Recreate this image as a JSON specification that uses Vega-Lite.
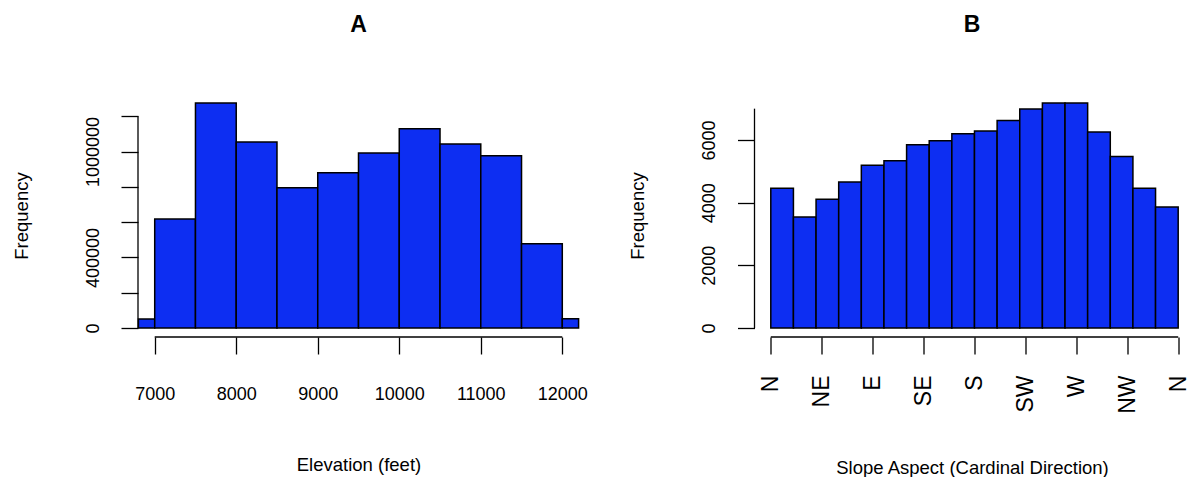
{
  "$schema": "https://vega.github.io/schema/vega-lite/v6.json",
  "background": "white",
  "padding": {"left": 12, "top": 14, "right": 0, "bottom": 0},
  "spacing": 39.5,
  "config": {
    "view": {"stroke": null},
    "font": "Liberation Sans",
    "axis": {
      "domain": false, "grid": false, "tickColor": "black", "tickWidth": 1.3, "tickSize": 17,
      "labelColor": "black", "labelFont": "Liberation Sans", "labelFontSize": 18,
      "titleColor": "black", "titleFont": "Liberation Sans", "titleFontSize": 18.5, "titleFontWeight": "normal"
    },
    "title": {"fontSize": 23, "fontWeight": "bold", "font": "Liberation Sans", "color": "black", "offset": 57, "anchor": "middle"}
  },
  "datasets": {
    "elev": [
      {"start": 6800, "end": 7000, "count": 51000},
      {"start": 7000, "end": 7500, "count": 618000},
      {"start": 7500, "end": 8000, "count": 1275000},
      {"start": 8000, "end": 8500, "count": 1054000},
      {"start": 8500, "end": 9000, "count": 795000},
      {"start": 9000, "end": 9500, "count": 880000},
      {"start": 9500, "end": 10000, "count": 992000},
      {"start": 10000, "end": 10500, "count": 1129000},
      {"start": 10500, "end": 11000, "count": 1043000},
      {"start": 11000, "end": 11500, "count": 976000},
      {"start": 11500, "end": 12000, "count": 478000},
      {"start": 12000, "end": 12200, "count": 53000}
    ],
    "aspect": [
      {"start": 0, "end": 20, "count": 4460},
      {"start": 20, "end": 40, "count": 3542},
      {"start": 40, "end": 60, "count": 4108},
      {"start": 60, "end": 80, "count": 4662},
      {"start": 80, "end": 100, "count": 5197},
      {"start": 100, "end": 120, "count": 5334},
      {"start": 120, "end": 140, "count": 5846},
      {"start": 140, "end": 160, "count": 5974},
      {"start": 160, "end": 180, "count": 6198},
      {"start": 180, "end": 200, "count": 6285},
      {"start": 200, "end": 220, "count": 6624},
      {"start": 220, "end": 240, "count": 6989},
      {"start": 240, "end": 260, "count": 7181},
      {"start": 260, "end": 280, "count": 7181},
      {"start": 280, "end": 300, "count": 6253},
      {"start": 300, "end": 320, "count": 5472},
      {"start": 320, "end": 340, "count": 4460},
      {"start": 340, "end": 360, "count": 3862}
    ],
    "one": [{}]
  },
  "hconcat": [
    {
      "title": "A",
      "width": 441,
      "height": 243,
      "layer": [
        {
          "data": {"name": "elev"},
          "mark": {"type": "bar", "fill": "#0d2ef2", "stroke": "black", "strokeWidth": 1.5},
          "encoding": {
            "x": {"field": "start", "type": "quantitative",
              "scale": {"domain": [6795, 12205], "nice": false, "zero": false},
              "axis": {"title": "Elevation (feet)", "values": [7000, 8000, 9000, 10000, 11000, 12000], "format": "d", "labelPadding": 31, "titlePadding": 52, "labelBaseline": "top"}},
            "x2": {"field": "end"},
            "y": {"field": "count", "type": "quantitative",
              "scale": {"domain": [-51000, 1326000], "nice": false, "zero": false},
              "axis": {"title": "Frequency", "values": [0, 200000, 400000, 600000, 800000, 1000000, 1200000], "format": "d",
                "labelExpr": "(datum.value == 0 || datum.value == 400000 || datum.value == 1000000) ? datum.label : ''",
                "labelAngle": -90, "labelAlign": "center", "labelBaseline": "bottom", "labelPadding": 19, "titlePadding": 52.3, "labelOverlap": false}},
            "y2": {"datum": 0}
          }
        },
        {
          "data": {"name": "one"},
          "mark": {"type": "rule", "color": "black", "strokeWidth": 1.3},
          "encoding": {"x": {"datum": 7000}, "x2": {"datum": 12000}, "y": {"datum": -51000}}
        },
        {
          "data": {"name": "one"},
          "mark": {"type": "rule", "color": "black", "strokeWidth": 1.3},
          "encoding": {"x": {"datum": 6795}, "y": {"datum": 0}, "y2": {"datum": 1200000}}
        }
      ]
    },
    {
      "title": "B",
      "width": 435,
      "height": 243,
      "layer": [
        {
          "data": {"name": "aspect"},
          "mark": {"type": "bar", "fill": "#0d2ef2", "stroke": "black", "strokeWidth": 1.5},
          "encoding": {
            "x": {"field": "start", "type": "quantitative",
              "scale": {"domain": [-14.4, 370], "nice": false, "zero": false},
              "axis": {"title": "Slope Aspect (Cardinal Direction)", "values": [0, 45, 90, 135, 180, 225, 270, 315, 360],
                "labelExpr": "['N','NE','E','SE','S','SW','W','NW','N'][round(datum.value / 45)]",
                "labelAngle": -90, "labelAlign": "right", "labelBaseline": "middle", "labelFontSize": 23, "labelPadding": 21, "titlePadding": 45, "labelOverlap": false}},
            "x2": {"field": "end"},
            "y": {"field": "count", "type": "quantitative",
              "scale": {"domain": [-287, 7468], "nice": false, "zero": false},
              "axis": {"title": "Frequency", "values": [0, 1000, 2000, 3000, 4000, 5000, 6000, 7000], "format": "d",
                "labelExpr": "(datum.value % 2000 == 0) ? datum.label : ''",
                "labelAngle": -90, "labelAlign": "center", "labelBaseline": "bottom", "labelPadding": 19, "titlePadding": 53.3, "labelOverlap": false}},
            "y2": {"datum": 0}
          }
        },
        {
          "data": {"name": "one"},
          "mark": {"type": "rule", "color": "black", "strokeWidth": 1.3},
          "encoding": {"x": {"datum": 0}, "x2": {"datum": 360}, "y": {"datum": -287}}
        },
        {
          "data": {"name": "one"},
          "mark": {"type": "rule", "color": "black", "strokeWidth": 1.3},
          "encoding": {"x": {"datum": -14.4}, "y": {"datum": 0}, "y2": {"datum": 7000}}
        }
      ]
    }
  ]
}
